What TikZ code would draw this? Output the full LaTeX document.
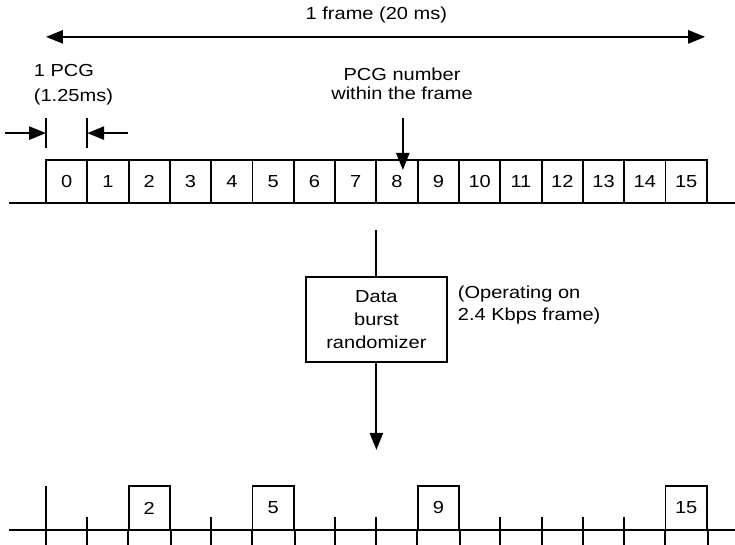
\documentclass[tikz,border=0pt]{standalone}
\usepackage{fontspec}
\setmainfont{Liberation Sans}[FakeStretch=1.15]
\usetikzlibrary{arrows.meta, positioning, calc}

\tikzset{
  slot/.style={draw, minimum width=1cm, minimum height=1.04cm, inner sep=0pt},
  lbl/.style={inner sep=0pt},
  bar/.style={line width=1.3pt},
}

\begin{document}
\begin{tikzpicture}[line width=1.3pt, font=\fontsize{12}{14}\selectfont,
  >={Triangle[length=4.1mm, width=3.2mm]}]
\useasboundingbox (-1.114,-0.363) rectangle (16.683,12.833);

% whole frame
\node[lbl] (frame) at (8,12.47) {1 frame (20 ms)};
\coordinate (fl) at (0,11.94);
\coordinate (fr) at (15.96,11.94);
\draw[<->] (fl) -- (fr);

% one PCG
\node[lbl, anchor=west, align=left, font=\fontsize{12}{17}\selectfont] (pcg) at (-0.315,10.78) {1 PCG\\(1.25ms)};
\coordinate (barL) at (0,9.61);
\coordinate (barR) at (1,9.61);
\draw ([yshift=-0.355cm]barL) -- ([yshift=0.37cm]barL);
\draw ([yshift=-0.355cm]barR) -- ([yshift=0.37cm]barR);
\draw[->] ([xshift=-0.99cm]barL) -- (barL);
\draw[->] ([xshift=0.985cm]barR) -- (barR);

% PCGs of the frame
\draw (-0.896,7.92) -- (16.683,7.92);
\foreach \i in {0,...,15} {
  \node[slot] (p\i) at (\i+0.5,8.44) {\i};
}
\node[lbl, align=center, font=\fontsize{12}{13.2}\selectfont] (pnum) at (8.62,10.80) {PCG number\\within the frame};
\coordinate (pn) at (8.64,9.98);
\draw[->] (pn) -- ++(0,-1.26);

% randomizer
\coordinate (in) at (8,7.26);
\node[slot, minimum width=3.41cm, minimum height=2.06cm, align=center, font=\fontsize{12}{16}\selectfont] (rand) at (8,5.10) {Data\\burst\\randomizer};
\node[lbl, anchor=west, align=left, font=\fontsize{12}{15}\selectfont] (oper) at (9.95,5.44) {(Operating on\\2.4 Kbps frame)};
\coordinate (out) at (8,1.94);
\draw (in) -- (rand);
\draw[->] (rand) -- (out);

% randomized frame
\draw (-0.896,0) -- (16.683,0);
\foreach \k in {2,5,9,15} {
  \node[slot, minimum height=1.065cm] (q\k) at (\k+0.5,0.5325) {\k};
  \draw (q\k.south west) -- ++(0,-0.363);
  \draw (q\k.south east) -- ++(0,-0.363);
}
\draw (0,1.065) -- (0,-0.363);
\foreach \b in {1,4,7,8,11,12,13,14} {
  \draw (\b,0.315) -- (\b,-0.363);
}
\end{tikzpicture}
\end{document}
